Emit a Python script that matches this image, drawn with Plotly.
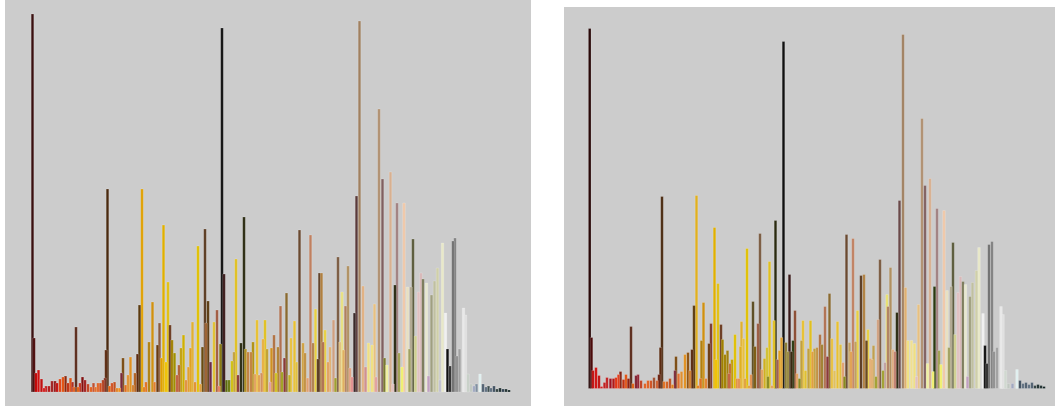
import plotly.graph_objects as go

# Colour histogram, first image: bin position, pixel count, bin colour
left_bins = [0.5, 2, 4, 6.5, 9.5, 12, 14, 17, 20, 23, 25, 28, 31, 33.5, 36, 38.5, 40.5, 42, 44, 46,
             48, 50.5, 53, 56, 59, 61.5, 63.5, 66, 68.5, 71, 73, 74, 75.5, 77.5, 80, 82.5, 85, 87.5, 89.5, 91,
             93.5, 96, 98.5, 101, 103, 105.5, 107.5, 110, 112, 114, 117, 120.5, 122.5, 125.5, 127.5, 129.5, 131.5, 134, 136, 138,
             140, 142.5, 145, 147, 149, 151.5, 154, 156.5, 158.5, 160.5, 163, 166, 168.5, 170.5, 173, 174, 176, 178.5, 182, 185,
             187, 188.5, 190, 192, 194.5, 197, 200, 202, 204, 206, 209, 212, 213.5, 216, 219, 221, 223, 225, 227, 229.5,
             231, 233, 235, 238, 239.5, 242, 244, 246, 248.5, 250, 252.5, 254.5, 257.5, 259, 262.5, 264.5, 267.5, 271, 273, 275.5,
             278.5, 281, 283.5, 286, 287.5, 289.5, 291, 293, 296, 298, 301.5, 303.5, 306, 308, 310, 311.5, 313.5, 316, 318, 320,
             322.5, 324.5, 327.5, 331, 333.5, 336.5, 340, 342.5, 344, 347, 350.5, 352.5, 355, 358.5, 361, 363, 365, 367, 370, 372,
             375.5, 377.5, 379, 381, 383.5, 386.5, 389, 391, 394.5, 396.5, 399.5, 402.5, 405.5, 408, 410.5, 413.5, 415.5, 418, 421, 423,
             425, 427.5, 431.5, 433.5, 436, 439, 442, 444.5, 448, 451, 454, 456.5, 459, 462, 465, 468, 471, 474, 477]
left_counts = [378, 54, 19, 22, 13, 4, 6, 6, 11, 11, 9, 13, 15, 16, 9, 14, 10, 5, 65, 5,
               9, 15, 12, 8, 5, 9, 5, 9, 9, 12, 14, 42, 203, 6, 9, 10, 4, 4, 19, 34,
               7, 17, 35, 7, 19, 38, 87, 203, 5, 10, 50, 90, 10, 47, 69, 34, 167, 30, 110, 67,
               52, 39, 17, 27, 44, 57, 12, 25, 44, 70, 10, 146, 8, 45, 163, 69, 91, 30, 70, 82,
               6, 48, 364, 118, 12, 12, 31, 40, 133, 17, 49, 175, 43, 40, 40, 50, 18, 72, 17, 19,
               53, 72, 43, 10, 44, 57, 19, 45, 86, 20, 34, 99, 17, 54, 71, 30, 162, 49, 39, 14,
               157, 49, 83, 33, 119, 119, 50, 62, 30, 45, 72, 14, 135, 50, 100, 42, 86, 126, 24, 15,
               79, 196, 371, 106, 25, 49, 47, 88, 15, 283, 213, 34, 27, 220, 8, 107, 189, 39, 25, 189,
               105, 43, 105, 153, 56, 100, 119, 113, 109, 16, 97, 111, 124, 12, 149, 79, 43, 26, 151, 154,
               36, 43, 84, 77, 18, 8, 6, 8, 18, 8, 5, 6, 4, 6, 3, 4, 3, 3, 2]
left_colors = ["#3a1010", "#4a0a0a", "#c00000", "#d01010", "#c01010", "#d02020", "#c02020", "#b01818", "#a02020", "#901818",
               "#c01010", "#e04010", "#e05010", "#8a2a10", "#c03010", "#e05010", "#b03020", "#e06020", "#5a2a1a", "#e06010",
               "#c03020", "#801010", "#a02020", "#c04020", "#e06020", "#c05030", "#e07030", "#e06020", "#d05020", "#b04020",
               "#803020", "#5a2a10", "#4a2a10", "#e06010", "#d05020", "#c05020", "#e08020", "#f09020", "#7a2a3a", "#7a4a10",
               "#e07020", "#e09030", "#e09020", "#d08030", "#b06020", "#5a2a10", "#5a3a10", "#e0a000", "#e08020", "#e07020",
               "#b08010", "#d09010", "#e08030", "#6a3a10", "#8a5a40", "#e0a000", "#e0b000", "#f0c000", "#e0c010", "#6a3a20",
               "#a08000", "#a09000", "#c06040", "#b06030", "#c0a010", "#d0b000", "#e09040", "#e0a030", "#e0a020", "#e0b030",
               "#e09030", "#e0c000", "#e0a040", "#6a4a10", "#5a3a20", "#9a6030", "#5a3a10", "#6a2a4a", "#e0c030", "#a05a40",
               "#e08060", "#8a7a10", "#101010", "#3a1a1a", "#5a6a10", "#6a7a10", "#d0c010", "#c0a040", "#e0c020", "#8a3a3a",
               "#2a2a10", "#2a2a10", "#b09020", "#c08040", "#c08040", "#b09010", "#e0a060", "#e8c030", "#e0a050", "#d09060",
               "#e8b040", "#e0c020", "#c0a030", "#e0a0a0", "#d09020", "#b07040", "#d0c020", "#b08030", "#b07050", "#a0a020",
               "#8a3a3a", "#8a6a30", "#c0b020", "#e8c040", "#e8c030", "#e0c040", "#6a4a30", "#d0a040", "#c09040", "#e0a070",
               "#c08060", "#b08050", "#e8d040", "#5a3a20", "#5a3a20", "#b08040", "#b07050", "#e8d040", "#e0a060", "#e0b070",
               "#d0a080", "#a0a030", "#7a5a40", "#e0c080", "#e8e080", "#e0b060", "#b08060", "#b09060", "#e0a080", "#e09090",
               "#3a2a2a", "#5a3a3a", "#a08060", "#e0b080", "#d09090", "#f0e080", "#f0e080", "#e8c080", "#e0a0a0", "#b09070",
               "#806060", "#7a7a30", "#f0f0a0", "#d8b090", "#e0c0c0", "#2a2a10", "#a08080", "#a0a050", "#f0f070", "#f0c8a8",
               "#e8e0c0", "#a0a060", "#b0a890", "#5a5a3a", "#d0d090", "#e0c0c0", "#d8b8b8", "#7a7a5a", "#e8e8d0", "#c0a0c0",
               "#a0a080", "#c0c0a0", "#d0d0a8", "#c0c0d0", "#e8e8c8", "#f0f0f0", "#101010", "#303030", "#707070", "#808080",
               "#909090", "#a0a0a0", "#e8e8e8", "#e0e0e0", "#c8d0c8", "#c0c8c0", "#a0a8c0", "#8090a0", "#e0f0f0", "#506070",
               "#607080", "#405050", "#607080", "#405060", "#304040", "#203030", "#304050", "#203030", "#102020"]

# Colour histogram, second image
right_bins = [0.7, 2.5, 4, 7, 10, 12.5, 15.5, 18, 21.5, 24.5, 27, 29.5, 31.5, 34.5, 37, 39.5, 42, 44, 47, 49,
              52, 56, 59, 62, 65, 68, 70, 71.5, 73, 75, 78, 81, 83.5, 86, 87, 89.5, 92.5, 96, 99, 101,
              103, 105, 107.5, 109, 111.5, 112.5, 114.5, 117, 120, 122, 125.5, 127, 129, 132, 133.5, 136, 138.5, 140, 141, 143,
              146, 148, 150, 151.5, 152.5, 154.5, 156, 158, 160, 162, 164, 166, 169, 171, 173, 175.5, 178, 179, 180.5, 183,
              185, 186.5, 188.5, 190.5, 192.5, 194.5, 197, 199, 200.5, 202.5, 204, 206, 208, 210.5, 212.5, 214, 216.5, 219.5, 221.5, 223.5,
              225.5, 228, 231, 233, 236, 238.5, 240.5, 243, 245.5, 248.5, 251.5, 254, 255.5, 257.5, 260.5, 262, 264, 266.5, 268.5, 272,
              275, 277.5, 279, 281.5, 283, 284.5, 287, 289, 291, 294, 296, 298, 299, 301.5, 304, 306, 308, 310.5, 314, 316.5,
              319, 322.5, 325.5, 327.5, 329.5, 333, 336, 338.5, 341, 344, 345.5, 348, 350, 352, 355, 358, 360, 362, 364, 366,
              369, 371.5, 374, 376.5, 378.5, 381, 383.5, 387.5, 390, 394, 396, 398, 400, 403, 405, 408, 412, 414, 416.5, 419.5,
              423.5, 428, 431, 434, 437, 440, 443, 446, 449, 452, 455]
right_counts = [360, 51, 18, 21, 13, 2, 6, 11, 10, 10, 11, 14, 17, 9, 14, 10, 62, 5, 13, 14,
                8, 5, 8, 8, 11, 8, 14, 41, 192, 7, 7, 10, 4, 18, 32, 15, 17, 34, 36, 18,
                39, 83, 193, 3, 10, 48, 86, 10, 45, 65, 161, 29, 105, 64, 49, 34, 38, 15, 25, 29,
                54, 10, 10, 42, 67, 50, 10, 140, 3, 14, 87, 42, 65, 155, 19, 30, 41, 12, 127, 3,
                68, 168, 29, 38, 51, 347, 46, 37, 114, 37, 48, 78, 15, 10, 48, 68, 18, 40, 68, 37,
                40, 41, 54, 44, 82, 32, 95, 50, 18, 67, 44, 26, 12, 154, 46, 37, 150, 47, 78, 113,
                114, 48, 59, 30, 29, 43, 12, 69, 129, 18, 26, 94, 82, 121, 39, 37, 76, 188, 354, 101,
                48, 48, 45, 12, 84, 270, 203, 25, 210, 17, 102, 180, 38, 24, 178, 98, 41, 102, 146, 54,
                96, 112, 107, 104, 12, 92, 106, 118, 141, 75, 43, 25, 144, 147, 37, 41, 82, 74, 18, 5,
                5, 19, 8, 5, 6, 4, 6, 3, 4, 3, 2]
right_colors = ["#2a0a0a", "#4a0a0a", "#c01010", "#d01010", "#c01010", "#d02020", "#c02020", "#c02020", "#a01020", "#b01818",
                "#e03010", "#e04020", "#802010", "#c03010", "#e05010", "#902010", "#5a2a1a", "#e06010", "#802030", "#902030",
                "#c04020", "#e06020", "#e06020", "#d05020", "#a05030", "#d06030", "#6a2010", "#5a2a10", "#4a2a10", "#e07020",
                "#d06020", "#c05020", "#e08020", "#7a2a3a", "#7a4a10", "#e07030", "#e09030", "#e09020", "#8a5010", "#d08030",
                "#5a2a10", "#5a3a10", "#e0b020", "#e08020", "#e07020", "#b08010", "#d09010", "#e08030", "#6a3a10", "#7a3a30",
                "#e0b000", "#f0c000", "#e0c010", "#6a3a20", "#a08000", "#a08000", "#a08010", "#c06040", "#c07030", "#c0a000",
                "#e0c000", "#e09040", "#e09050", "#e0b020", "#e0b030", "#e8c040", "#e0a040", "#e0c000", "#e0a040", "#e09050",
                "#5a4a20", "#7a5a10", "#9a5a40", "#7a5a40", "#e0a060", "#d0b020", "#d0c030", "#8a8a20", "#e0c020", "#e0a060",
                "#e0c020", "#2a2a10", "#a06050", "#e0a020", "#e0a030", "#101010", "#8a7a30", "#9a8a40", "#3a1a1a", "#3a2a10",
                "#2a3a10", "#8a4a30", "#e0a060", "#8a8a20", "#c0a040", "#e8c030", "#e0c030", "#c0a040", "#e0c020", "#e0a040",
                "#c0a040", "#c09040", "#b07040", "#a08030", "#b07050", "#8a3a3a", "#8a6a30", "#e8c040", "#e0c060", "#e8c030",
                "#e0c040", "#e0a070", "#8a8a20", "#6a4a30", "#c0a060", "#e0a050", "#c08060", "#c0a060", "#e8d040", "#5a3a20",
                "#b08040", "#6a4a20", "#e8d040", "#e0a060", "#e0b070", "#c0a050", "#a0a030", "#d0a080", "#7a5a40", "#a0a030",
                "#c0a0a0", "#e8e070", "#b08060", "#b09060", "#e0b080", "#c08070", "#2a2a10", "#6a4a4a", "#a08060", "#e0b070",
                "#f0e080", "#f0e090", "#f0e080", "#e0c0c0", "#e8c080", "#b09070", "#806060", "#f0f0a0", "#d8b090", "#f0f070",
                "#2a3a10", "#a08080", "#a0a050", "#f0f070", "#f0c8a8", "#e8e0c0", "#a0a060", "#b0a890", "#5a5a3a", "#d0d090",
                "#e0c0c0", "#d8b8b8", "#7a7a5a", "#e8e8d0", "#c0a0c0", "#a0a080", "#c0c0a0", "#d0d0a8", "#e8e8c8", "#f0f0f0",
                "#101010", "#303030", "#707070", "#808080", "#909090", "#a0a0a0", "#e8e8e8", "#e0e0e0", "#d0d8d0", "#c0c8c0",
                "#a0a8c0", "#e0f0f0", "#405060", "#607080", "#506070", "#607080", "#506070", "#304040", "#203030", "#203030",
                "#102020"]

fig = go.Figure()


def add_histogram(bins, counts, colors, xa, ya):
    # tallest bins first so the shorter ones stay visible in front
    order = sorted(range(len(counts)), key=lambda i: -counts[i])
    fig.add_trace(go.Bar(
        x=[bins[i] for i in order],
        y=[counts[i] for i in order],
        width=2.6,
        marker=dict(color=[colors[i] for i in order],
                    line=dict(width=0.6, color="rgba(255,255,255,0.3)")),
        xaxis=xa, yaxis=ya, showlegend=False, hoverinfo="skip",
    ))


add_histogram(left_bins, left_counts, left_colors, "x", "y")
add_histogram(right_bins, right_counts, right_colors, "x2", "y2")

W, H = 1055, 406
axis_style = dict(visible=False, fixedrange=True)
fig.update_layout(
    width=W, height=H,
    margin=dict(l=0, r=0, t=0, b=0),
    paper_bgcolor="white",
    plot_bgcolor="#cccccc",
    barmode="overlay",
    xaxis=dict(domain=[5 / W, 531 / W], range=[-27, 499], **axis_style),
    yaxis=dict(domain=[0, 1], range=[-14, 392], **axis_style),
    xaxis2=dict(domain=[564 / W, 1], range=[-25, 466], anchor="y2", **axis_style),
    yaxis2=dict(domain=[0, 399 / H], range=[-17.5, 381.5], anchor="x2", **axis_style),
)

fig.write_html("out.html")
